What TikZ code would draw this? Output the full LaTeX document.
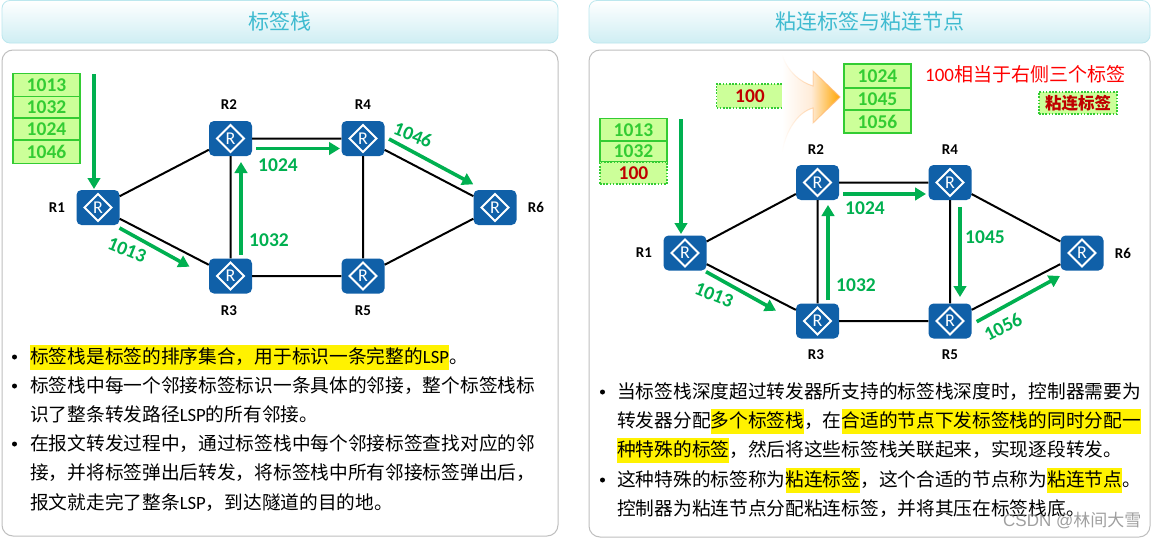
\documentclass[tikz,border=0pt]{standalone}
\usepackage{fontspec}
\setmainfont{Noto Sans CJK SC}
\newfontfamily\lat{Carlito}
\usetikzlibrary{arrows.meta,fadings,shadings}
\definecolor{rblue}{HTML}{1060A8}
\definecolor{lgreen}{HTML}{33CC33}
\definecolor{lfill}{HTML}{CCFF99}
\definecolor{agreen}{HTML}{00B050}
\definecolor{dred}{HTML}{C00000}
\definecolor{ttl}{HTML}{3FBBD0}
\newcommand{\fs}[1]{\fontsize{#1}{#1}\selectfont}
\newcommand{\hl}[1]{{\setlength{\fboxsep}{0pt}\colorbox{yellow}{\rule[-6.5pt]{0pt}{25pt}#1}}}
\newcommand{\LSP}{{\lat LSP}}
\tikzset{
  x=1pt,y=-1pt,
  titlebox/.style={draw=none,rounded corners=8pt,top color=white,bottom color=ttl!25,minimum height=43pt,text=ttl,font=\fs{21}},
  panel/.style={draw=black!25,line width=1pt,rounded corners=11pt,fill=white},
  router/.style={rectangle,rounded corners=5pt,fill=rblue,minimum width=43pt,minimum height=35pt,inner sep=0pt,
    text=white,font=\lat\fs{18},
    path picture={\draw[white,line width=1.8pt,sharp corners] (path picture bounding box.center)+(-13.5,0) -- +(0,-13.5) -- +(13.5,0) -- +(0,13.5) -- cycle;}},
  link/.style={draw=black,line width=2pt},
  flow/.style={draw=agreen,line width=3.6pt,-{Triangle[length=11pt,width=12.5pt]}},
  rname/.style={font=\lat\bfseries\fs{15},inner sep=0pt},
  flabel/.style={text=agreen,font=\lat\bfseries\fs{19.5},inner sep=0pt},
  cell/.style={draw=lgreen,fill=lfill,line width=1.5pt,minimum width=67pt,inner sep=0pt,text=lgreen,font=\lat\bfseries\fs{19.5}},
  dotcell/.style={cell,dash pattern=on 1.6pt off 1.6pt,text=dred},
  textline/.style={anchor=base west,inner sep=0pt,font=\fs{18.7}},
  bulletdot/.style={circle,fill=black,inner sep=0pt,minimum size=5pt},
}
\begin{document}
\begin{tikzpicture}
\useasboundingbox (0,0) rectangle (1153,538);
\fill[white] (0,0) rectangle (1153,538);
% panels
\node[titlebox,minimum width=556pt] (t1) at (280,21.5) {标签栈};
\node[titlebox,minimum width=561pt] (t2) at (869.5,21.5) {粘连标签与粘连节点};
\draw[ttl!35,rounded corners=8pt,line width=.8pt] (2,0.5) rectangle (558,43);
\draw[ttl!35,rounded corners=8pt,line width=.8pt] (589,0.5) rectangle (1150,43);
\draw[panel] (2,50) rectangle (558,536);
\draw[panel] (589,50) rectangle (1150,537);

% left network
\node[router] (a1) at (98,207.5) {R};
\node[router] (a2) at (230.5,138.5) {R};
\node[router] (a3) at (230.5,276) {R};
\node[router] (a4) at (363,138.5) {R};
\node[router] (a5) at (363,276) {R};
\node[router] (a6) at (495,207.5) {R};
\draw[link] (a1)--(a2) (a1)--(a3) (a2)--(a3) (a2)--(a4) (a3)--(a5) (a4)--(a5) (a4)--(a6) (a5)--(a6);
\node[rname] (la1) at (57,208) {R1};
\node[rname] (la2) at (229,105) {R2};
\node[rname] (la3) at (229,311) {R3};
\node[rname] (la4) at (363,105) {R4};
\node[rname] (la5) at (363,311) {R5};
\node[rname] (la6) at (536,207) {R6};
\node[cell,minimum height=23pt] (s1) at (46.5,85) {1013};
\node[cell,minimum height=21.5pt] (s2) at (46.5,107) {1032};
\node[cell,minimum height=22pt] (s3) at (46.5,129) {1024};
\node[cell,minimum height=23.5pt] (s4) at (46.5,151.5) {1046};
\coordinate (f1a) at (94,74); \coordinate (f1b) at (94,189);
\coordinate (f2a) at (119.5,228); \coordinate (f2b) at (189.5,266.7);
\coordinate (f3a) at (241,255); \coordinate (f3b) at (241,162);
\coordinate (f4a) at (256,148.5); \coordinate (f4b) at (340,148.5);
\coordinate (f5a) at (389,139); \coordinate (f5b) at (473.3,184.3);
\draw[flow] (f1a)--(f1b);
\draw[flow] (f2a)--(f2b);
\draw[flow] (f3a)--(f3b);
\draw[flow] (f4a)--(f4b);
\draw[flow] (f5a)--(f5b);
\node[flabel,rotate=-22] (n1) at (127,250) {1013};
\node[flabel] (n2) at (269,240) {1032};
\node[flabel] (n3) at (278,165) {1024};
\node[flabel,rotate=-22] (n4) at (413,135) {1046};

% left text
\node[bulletdot] (b1) at (14.5,357) {};
\node[bulletdot] (b2) at (14.5,386) {};
\node[bulletdot] (b3) at (14.5,444) {};
\node[textline] (l1) at (30,363) {\hl{标签栈是标签的排序集合，用于标识一条完整的\LSP}。};
\node[textline] (l2) at (30,392) {标签栈中每一个邻接标签标识一条具体的邻接，整个标签栈标};
\node[textline] (l3) at (30,421) {识了整条转发路径\LSP 的所有邻接。};
\node[textline] (l4) at (30,450) {在报文转发过程中，通过标签栈中每个邻接标签查找对应的邻};
\node[textline] (l5) at (30,479) {接，并将标签弹出后转发，将标签栈中所有邻接标签弹出后，};
\node[textline] (l6) at (30,509) {报文就走完了整条\LSP，到达隧道的目的地。};

% right network
\node[router] (c1) at (685,253) {R};
\node[router] (c2) at (817.5,182.5) {R};
\node[router] (c3) at (817.5,321) {R};
\node[router] (c4) at (950,182.5) {R};
\node[router] (c5) at (950,321) {R};
\node[router] (c6) at (1082,253) {R};
\draw[link] (c1)--(c2) (c1)--(c3) (c2)--(c3) (c2)--(c4) (c3)--(c5) (c4)--(c5) (c4)--(c6) (c5)--(c6);
\node[rname] (lc1) at (644,253) {R1};
\node[rname] (lc2) at (816,150) {R2};
\node[rname] (lc3) at (816,355) {R3};
\node[rname] (lc4) at (950,150) {R4};
\node[rname] (lc5) at (950,355) {R5};
\node[rname] (lc6) at (1123,253) {R6};
\node[cell,minimum height=23pt] (u1) at (633.5,130) {1013};
\node[cell,minimum height=21pt] (u2) at (633.5,151.5) {1032};
\node[dotcell,minimum height=22pt] (u3) at (633.5,173) {100};
\node[cell,minimum height=24pt] (v1) at (877.5,76) {1024};
\node[cell,minimum height=22pt] (v2) at (877.5,99) {1045};
\node[cell,minimum height=23pt] (v3) at (877.5,121.5) {1056};
\node[dotcell,minimum height=24pt] (w) at (750,96) {100};
% fat arrow
\path[left color=white,right color=orange!70!yellow,middle color=orange!15]
  (782,55) .. controls (788,72) and (800,82) .. (813,86) -- (813,71) -- (840,97) -- (813,123) -- (813,108)
  .. controls (798,112) and (786,130) .. (782,152) -- cycle;
\draw[orange!55,line width=1pt,path fading=west]
  (782,55) .. controls (788,72) and (800,82) .. (813,86) -- (813,71) -- (840,97) -- (813,123) -- (813,108)
  .. controls (798,112) and (786,130) .. (782,152);
\node[inner sep=0pt,anchor=base west,text=red,font=\fs{19}] (note) at (925,81) {{\lat 100}相当于右侧三个标签};
\node[dotcell,draw=lgreen,minimum width=78pt,minimum height=22pt,font=\bfseries\fs{16.5}] (key) at (1078,103) {粘连标签};
\coordinate (g1a) at (681,119); \coordinate (g1b) at (681,234);
\coordinate (g2a) at (706,271.7); \coordinate (g2b) at (776,310.7);
\coordinate (g3a) at (828,300); \coordinate (g3b) at (828,205);
\coordinate (g4a) at (843,194); \coordinate (g4b) at (926,194);
\coordinate (g5a) at (960,207); \coordinate (g5b) at (960,297);
\coordinate (g6a) at (976.7,321.7); \coordinate (g6b) at (1060,276);
\draw[flow] (g1a)--(g1b);
\draw[flow] (g2a)--(g2b);
\draw[flow] (g3a)--(g3b);
\draw[flow] (g4a)--(g4b);
\draw[flow] (g5a)--(g5b);
\draw[flow] (g6a)--(g6b);
\node[flabel,rotate=-22] (m1) at (714,295) {1013};
\node[flabel] (m2) at (856,285) {1032};
\node[flabel] (m3) at (865,208) {1024};
\node[flabel] (m4) at (985,237) {1045};
\node[flabel,rotate=27] (m5) at (1003,327) {1056};

% right text
\node[bulletdot] (d1) at (602.5,392) {};
\node[bulletdot] (d2) at (602.5,480) {};
\node[textline] (r1) at (617,398) {当标签栈深度超过转发器所支持的标签栈深度时，控制器需要为};
\node[textline] (r2) at (617,427) {转发器分配\hl{多个标签栈}，在\hl{合适的节点下发标签栈的同时分配一}};
\node[textline] (r3) at (617,456) {\hl{种特殊的标签}，然后将这些标签栈关联起来，实现逐段转发。};
\node[textline] (r4) at (617,486) {这种特殊的标签称为\hl{粘连标签}，这个合适的节点称为\hl{粘连节点}。};
\node[textline] (r5) at (617,515) {控制器为粘连节点分配粘连标签，并将其压在标签栈底。};
\node[inner sep=0pt,anchor=base west,text=black!50,text opacity=.75,font=\fs{17}] (wm) at (1003,526) {{\fontspec{Liberation Sans}CSDN @}林间大雪};
\end{tikzpicture}
\end{document}
